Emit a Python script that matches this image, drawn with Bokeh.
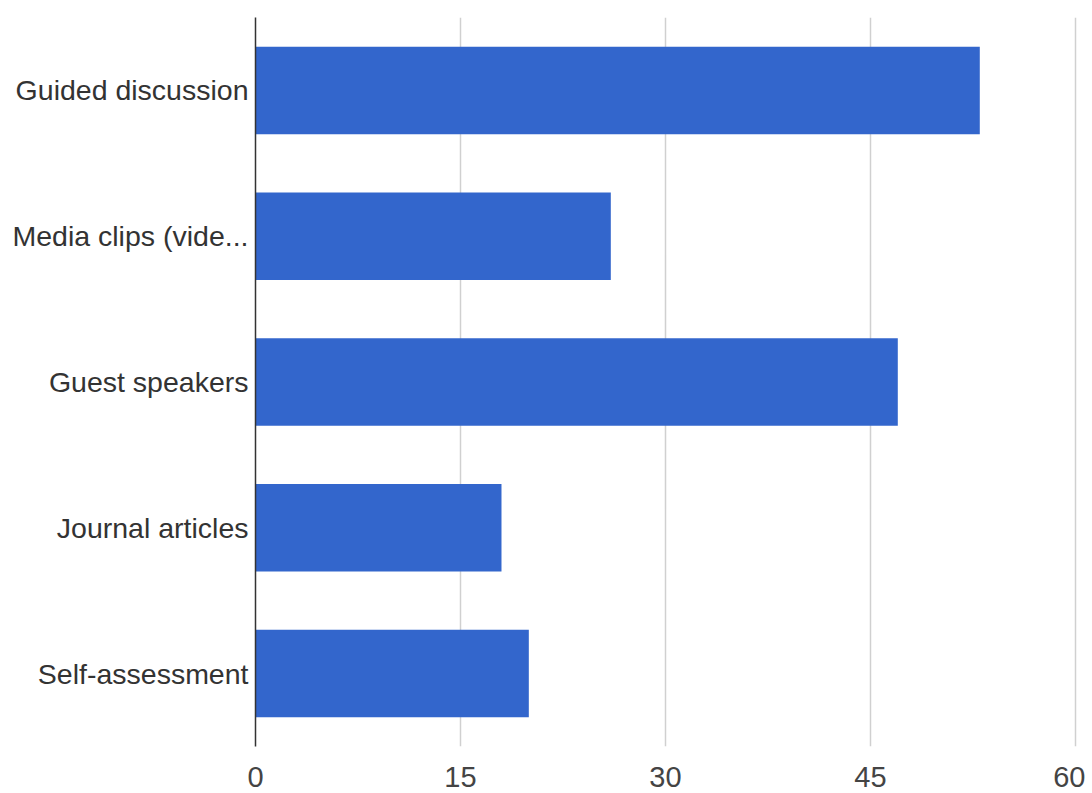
from bokeh.plotting import figure
from bokeh.models import FixedTicker, Range1d, FactorRange, ColumnDataSource
from bokeh.embed import file_html
from bokeh.resources import INLINE

categories = ["Guided discussion", "Media clips (vide...", "Guest speakers", "Journal articles", "Self-assessment"]
values = [53, 26, 47, 18, 20]
x_ticks = [0, 15, 30, 45, 60]

src = ColumnDataSource(dict(cat=categories, val=values))

p = figure(
    y_range=FactorRange(*list(reversed(categories)), range_padding=0),
    x_range=Range1d(0, 60.15),
    frame_width=822, frame_height=729,
    min_border_left=255, min_border_top=17, min_border_right=8, min_border_bottom=45,
    output_backend="svg", toolbar_location=None,
)
p.hbar(y="cat", right="val", left=0, height=0.6, source=src,
       fill_color="#3366cc", line_color=None)

p.outline_line_color = None
p.ygrid.grid_line_color = None
p.xgrid.grid_line_color = "#d0d0d0"
p.xgrid.grid_line_width = 1.5
p.xaxis.ticker = FixedTicker(ticks=x_ticks)

font = "Liberation Sans"
p.xaxis.axis_line_color = None
p.xaxis.major_tick_line_color = None
p.xaxis.minor_tick_line_color = None
p.xaxis.major_tick_out = 0
p.xaxis.major_label_standoff = 20
p.xaxis.major_label_text_font = font
p.xaxis.major_label_text_font_size = "29px"
p.xaxis.major_label_text_color = "#444444"

p.yaxis.axis_line_color = "#333333"
p.yaxis.axis_line_width = 1.5
p.yaxis.major_tick_line_color = None
p.yaxis.minor_tick_line_color = None
p.yaxis.major_tick_out = 0
p.yaxis.major_label_standoff = 7
p.yaxis.major_label_text_font = font
p.yaxis.major_label_text_font_size = "28.5px"
p.yaxis.major_label_text_color = "#333333"

open("out.html", "w").write(file_html(p, INLINE))
